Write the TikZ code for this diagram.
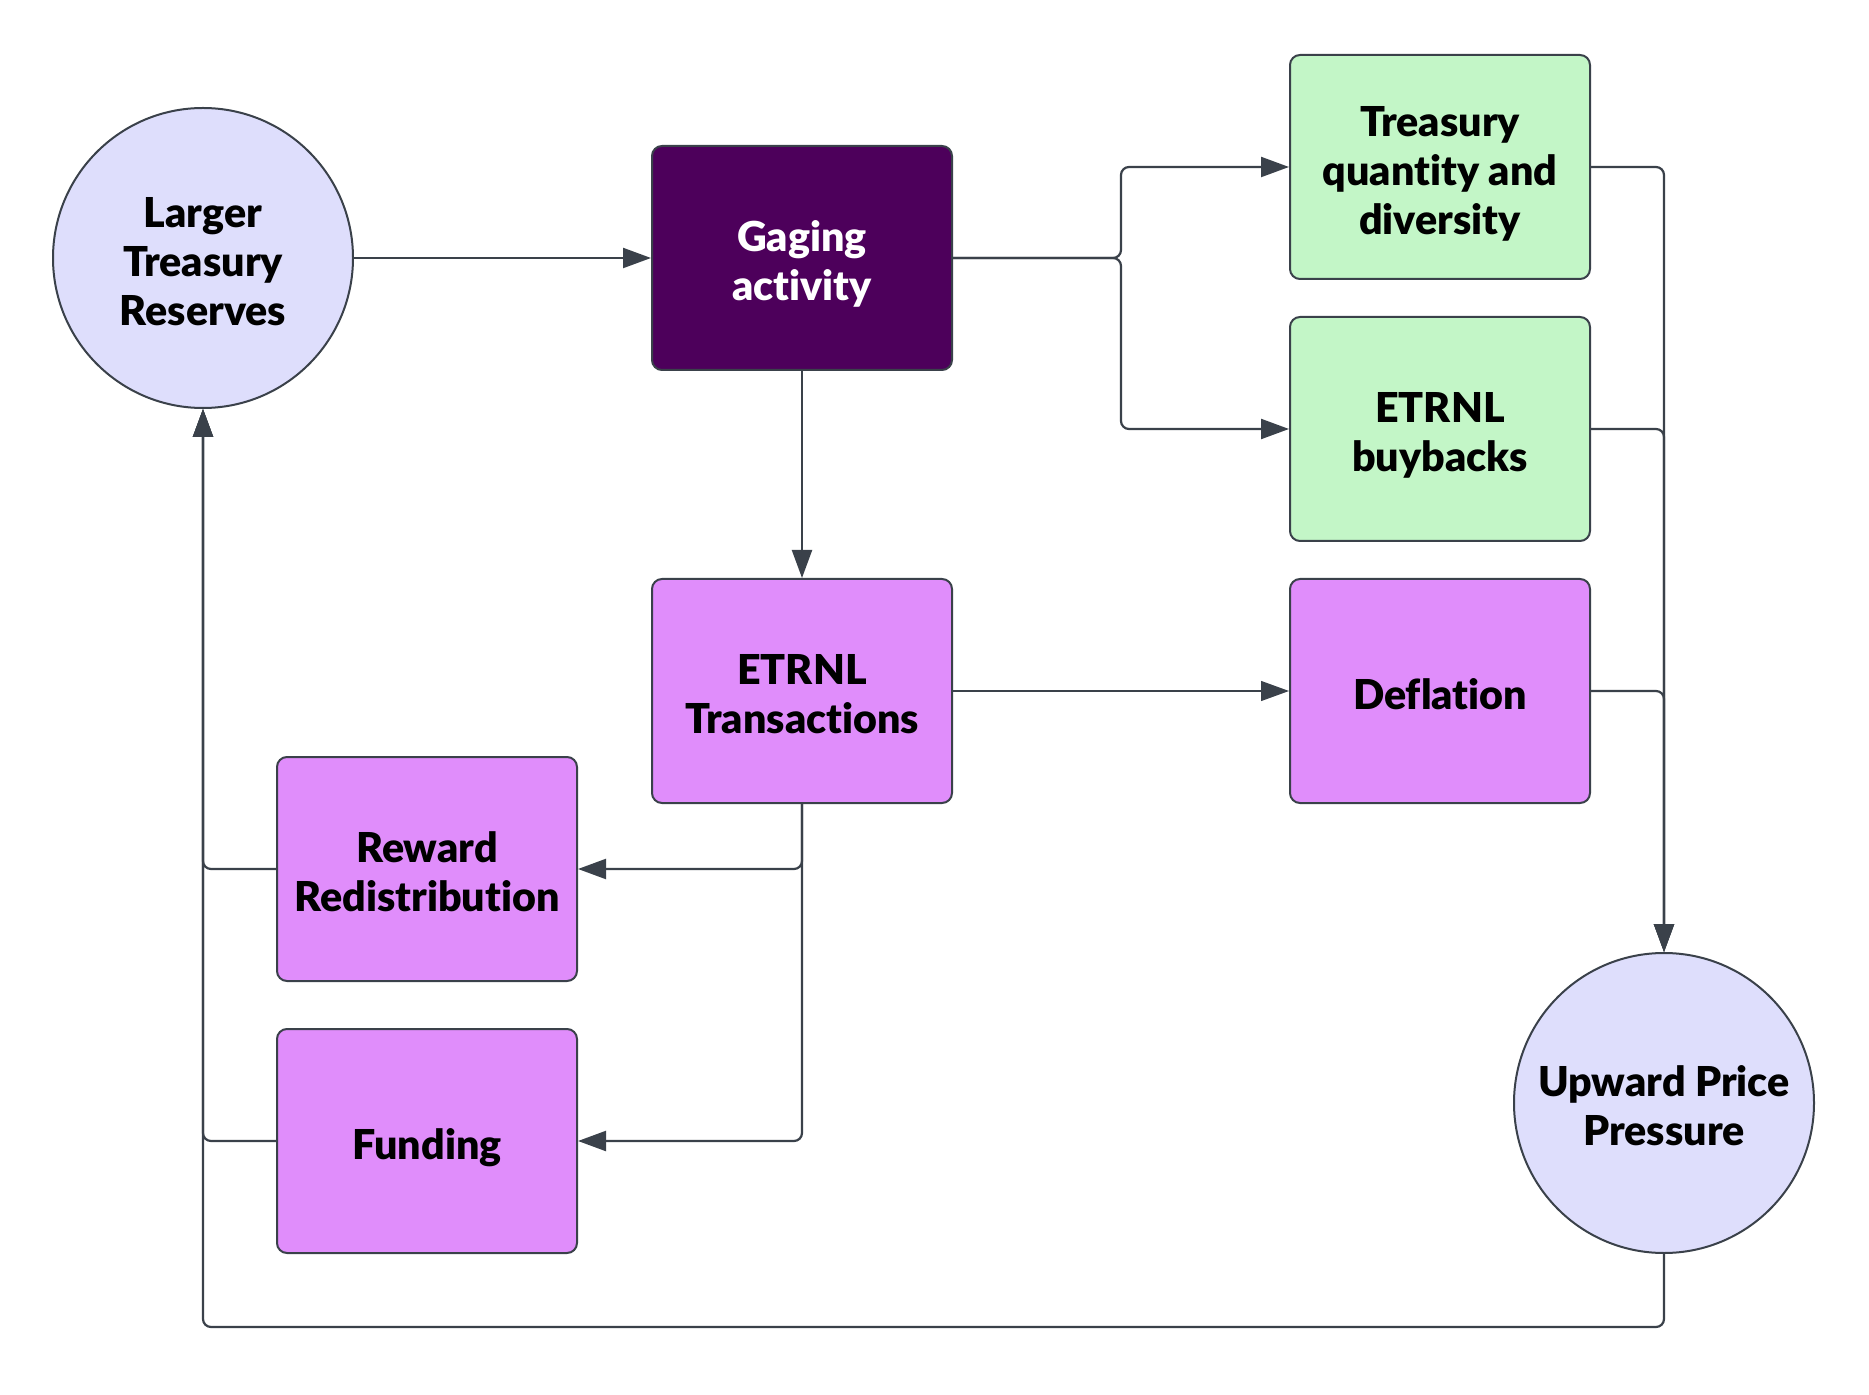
\documentclass[tikz,border=0pt]{standalone}
\usepackage{fontspec}
\setmainfont{Lato}[BoldFont={Lato Black},Ligatures={NoCommon}]
\usetikzlibrary{arrows.meta}
\definecolor{circfill}{HTML}{DEDEFC}
\definecolor{gagefill}{HTML}{4D005B}
\definecolor{greenfill}{HTML}{C3F6C7}
\definecolor{pinkfill}{HTML}{E08DFB}
\definecolor{edgecol}{HTML}{3A414A}
\tikzset{
  base/.style={draw=edgecol, line width=1pt, align=center, font=\fontsize{20.6}{24.5}\selectfont\bfseries, text=black, inner sep=0pt},
  circ/.style={base, circle, fill=circfill, minimum size=150pt},
  box/.style={base, rectangle, rounded corners=5pt, minimum width=150pt, minimum height=112pt},
  dark/.style={box, fill=gagefill, text=white},
  green/.style={box, fill=greenfill},
  pink/.style={box, fill=pinkfill},
  conn/.style={draw=edgecol, line width=1.1pt, rounded corners=4pt},
  arr/.style={conn, -{Triangle[length=14pt,width=10pt]}},
}
\newcommand{\lbl}[1]{\raisebox{0pt}[\dimexpr\height+8.4pt\relax][\depth]{\begin{tabular}{@{}c@{}}#1\end{tabular}}}
\begin{document}
\begin{tikzpicture}[x=0.5pt,y=-0.5pt]
\useasboundingbox (0,0) rectangle (1869,1395);
\node[circ] (larger) at (203,258) {\lbl{Larger\\Treasury\\Reserves}};
\node[dark] (gage) at (802,258) {\lbl{Gaging\\activity}};
\node[green] (tq) at (1440,167) {\lbl{Treasury\\quantity and\\diversity}};
\node[green] (buy) at (1440,429) {\lbl{ETRNL\\buybacks}};
\node[pink] (trans) at (802,691) {\lbl{ETRNL\\Transactions}};
\node[pink] (defl) at (1440,691) {\lbl{Deflation}};
\node[pink] (reward) at (427,869) {\lbl{Reward\\Redistribution}};
\node[pink] (fund) at (427,1141) {\lbl{Funding}};
\node[circ] (up) at (1664,1103) {\lbl{Upward Price\\Pressure}};
\coordinate (br) at (1121,258);
\coordinate (bot) at (1664,1327);

\draw[arr] (larger.east) -- (gage.west);
\draw[arr] (gage.east) -- (br) |- (tq.west);
\draw[arr] (gage.east) -- (br) |- (buy.west);
\draw[arr] (gage.south) -- (trans.north);
\draw[arr, line width=0.6pt] (trans.east) -- (defl.west);
\draw[arr] (trans.south) |- (reward.east);
\draw[arr] (trans.south) |- (fund.east);
\draw[arr] (reward.west) -| (larger.south);
\draw[arr] (fund.west) -| (larger.south);
\draw[arr] (up.south) -- (bot) -| (larger.south);
\draw[arr] (tq.east) -| (up.north);
\draw[arr] (buy.east) -| (up.north);
\draw[arr] (defl.east) -| (up.north);
\end{tikzpicture}
\end{document}
